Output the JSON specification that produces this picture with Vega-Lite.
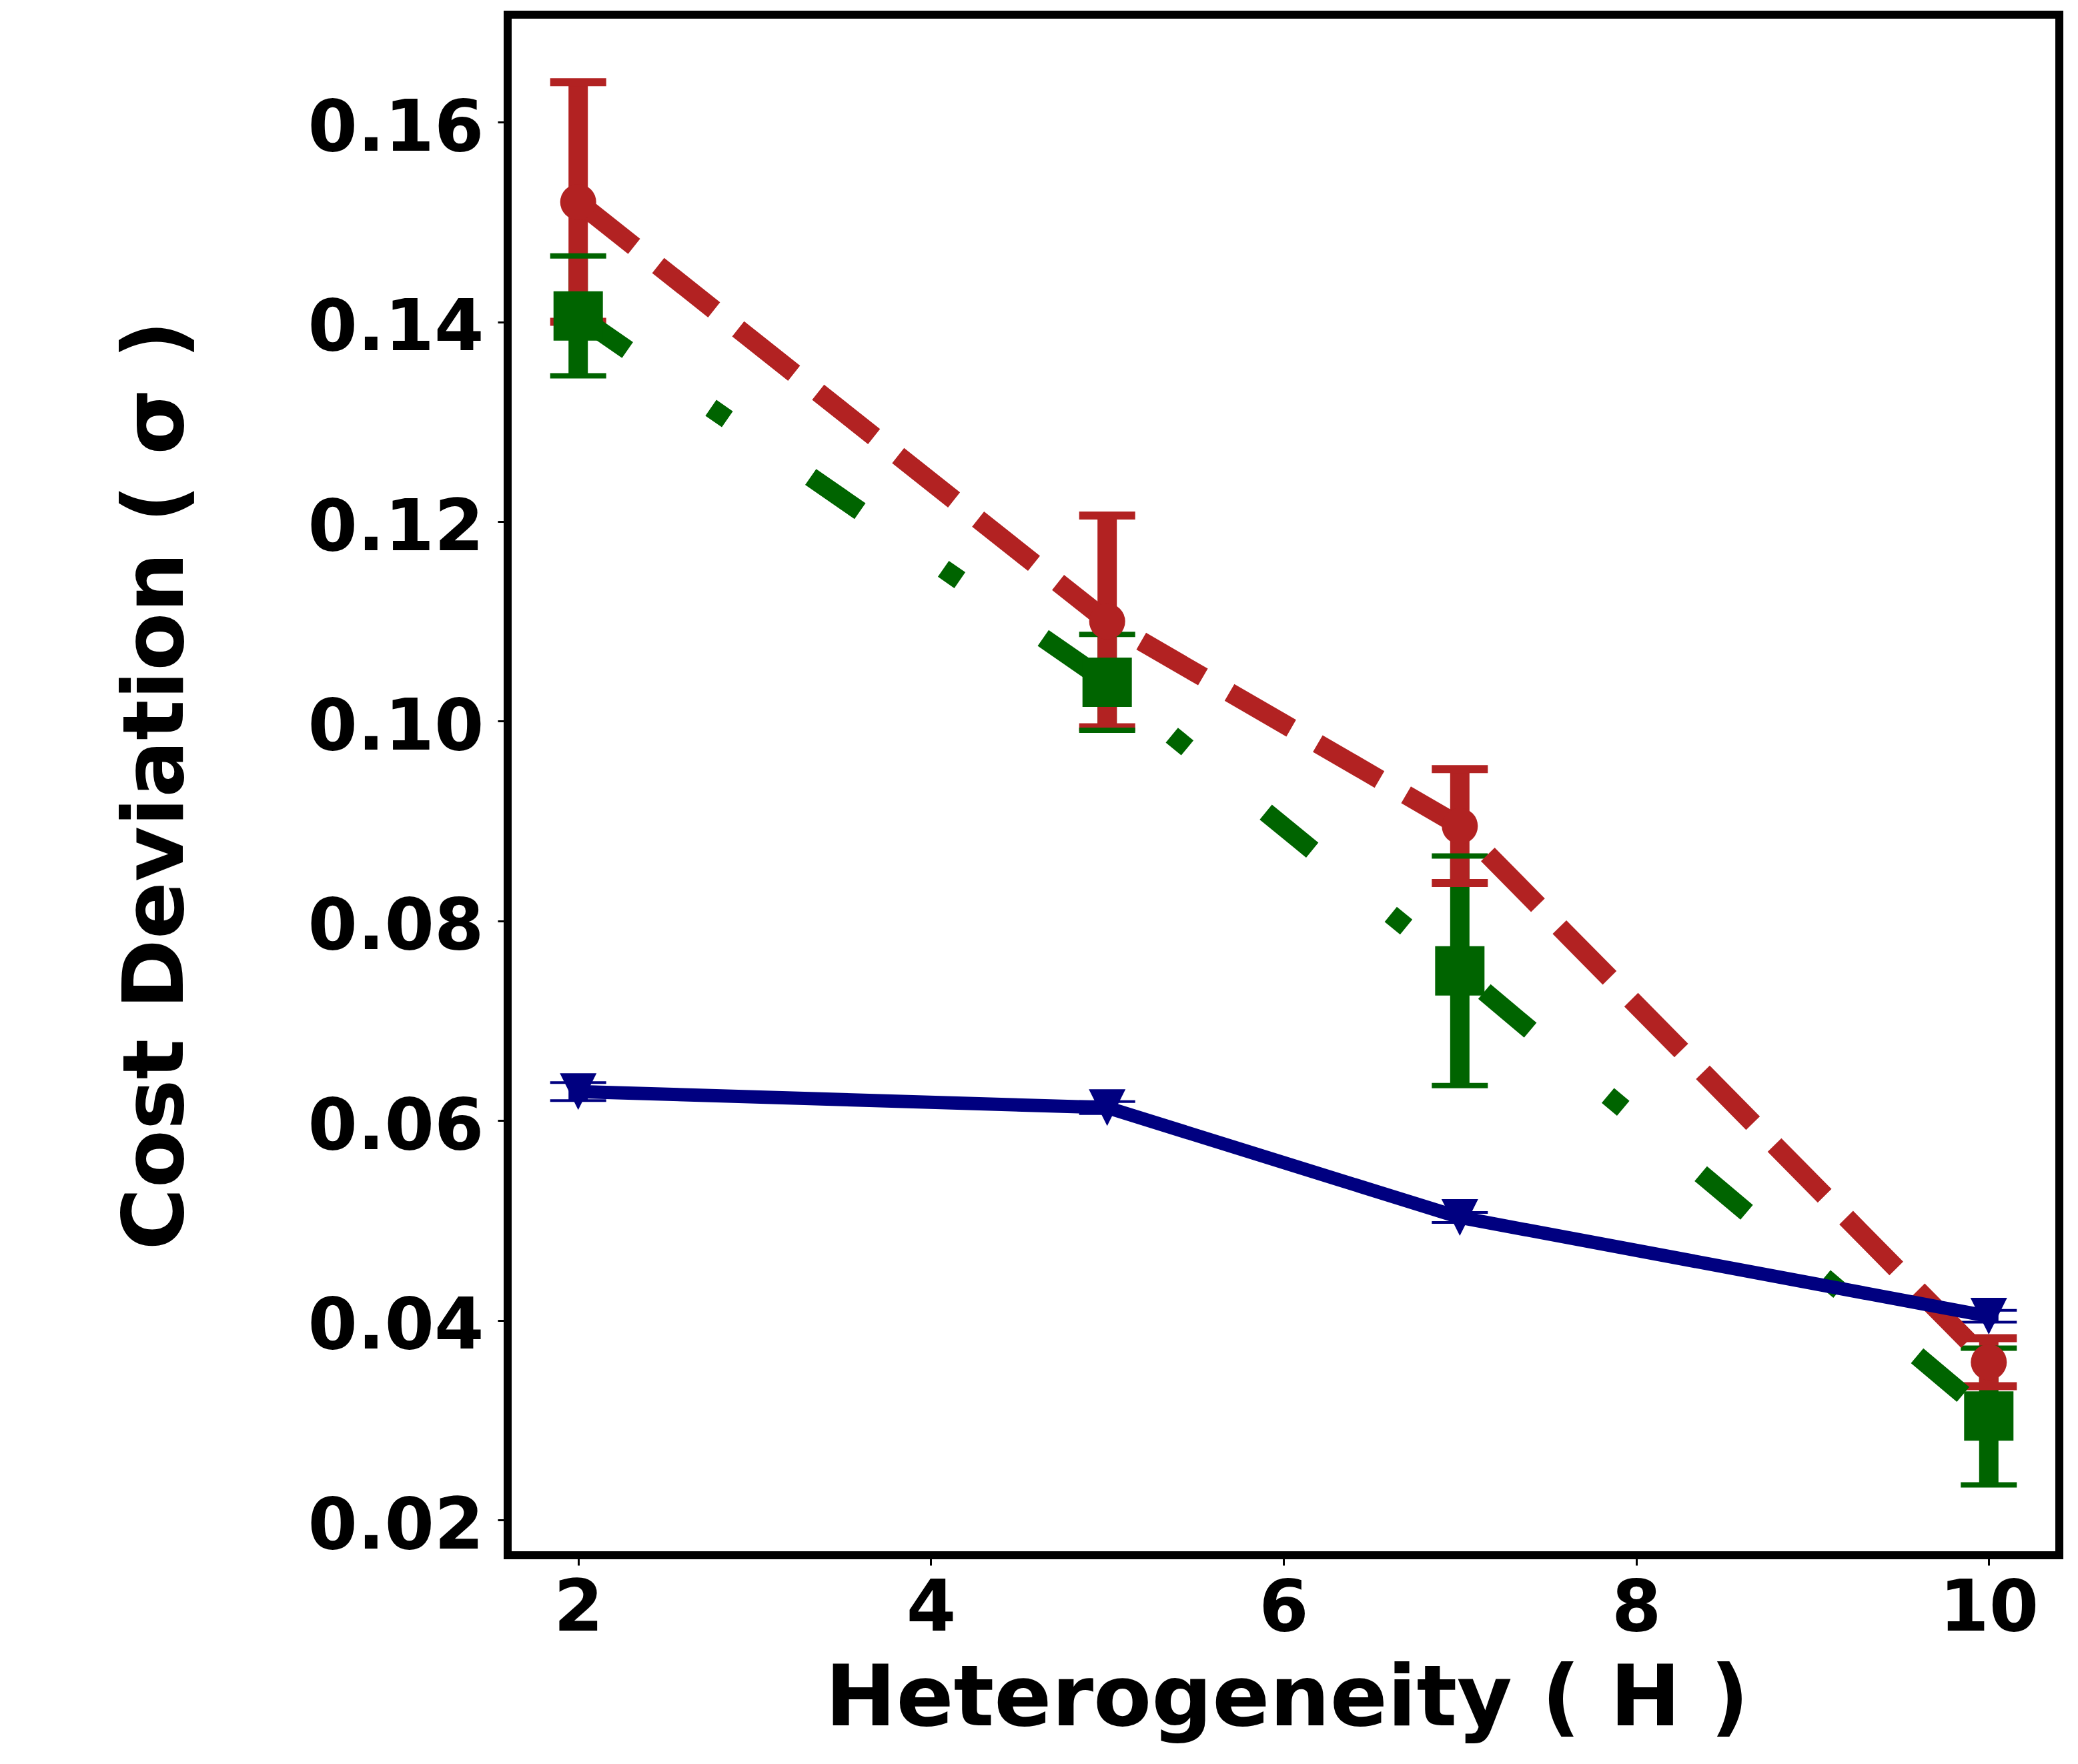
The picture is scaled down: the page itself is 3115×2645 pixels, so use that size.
{
  "$schema": "https://vega.github.io/schema/vega-lite/v6.json",
  "width": 2326,
  "height": 2310,
  "autosize": {"type": "none"},
  "padding": {"left": 761, "top": 22, "right": 28, "bottom": 313},
  "background": "white",
  "data": {
    "values": [
      {"series": "green", "H": 2, "sigma": 0.1406, "lo": 0.1346, "hi": 0.1466},
      {"series": "green", "H": 5, "sigma": 0.1039, "lo": 0.0991, "hi": 0.1087},
      {"series": "green", "H": 7, "sigma": 0.0750, "lo": 0.0635, "hi": 0.0865},
      {"series": "green", "H": 10, "sigma": 0.0304, "lo": 0.0235, "hi": 0.0372},
      {"series": "red", "H": 2, "sigma": 0.152, "lo": 0.140, "hi": 0.164},
      {"series": "red", "H": 5, "sigma": 0.110, "lo": 0.0994, "hi": 0.1206},
      {"series": "red", "H": 7, "sigma": 0.0895, "lo": 0.0838, "hi": 0.0952},
      {"series": "red", "H": 10, "sigma": 0.0358, "lo": 0.0334, "hi": 0.0382},
      {"series": "blue", "H": 2, "sigma": 0.0629, "lo": 0.0620, "hi": 0.0638},
      {"series": "blue", "H": 5, "sigma": 0.0613, "lo": 0.0607, "hi": 0.0619},
      {"series": "blue", "H": 7, "sigma": 0.0503, "lo": 0.0498, "hi": 0.0508},
      {"series": "blue", "H": 10, "sigma": 0.0404, "lo": 0.0398, "hi": 0.0410}
    ]
  },
  "encoding": {
    "x": {
      "field": "H",
      "type": "quantitative",
      "scale": {"domain": [1.6, 10.4], "nice": false, "zero": false},
      "axis": {
        "values": [2, 4, 6, 8, 10],
        "title": "Heterogeneity ( H )",
        "titleX": 1168,
        "titleY": 254,
        "titleAlign": "center",
        "titleBaseline": "alphabetic",
        "labelPadding": 12,
        "labelFlush": false
      }
    },
    "y": {
      "field": "sigma",
      "type": "quantitative",
      "scale": {"domain": [0.01646, 0.17077], "nice": false, "zero": false},
      "axis": {
        "values": [0.02, 0.04, 0.06, 0.08, 0.10, 0.12, 0.14, 0.16],
        "format": ".2f",
        "title": "Cost Deviation ( σ )",
        "titleX": -488,
        "titleY": 1155,
        "titleAngle": 270,
        "titleAlign": "center",
        "titleBaseline": "alphabetic",
        "labelPadding": 21,
        "labelOffset": 10,
        "labelFlush": false
      }
    }
  },
  "layer": [
    {
      "mark": {"type": "rule", "strokeWidth": 29, "strokeCap": "butt"},
      "encoding": {
        "y": {
          "field": "lo",
          "type": "quantitative",
          "scale": {"domain": [0.01646, 0.17077], "nice": false, "zero": false},
          "axis": {
            "values": [0.02, 0.04, 0.06, 0.08, 0.10, 0.12, 0.14, 0.16],
            "format": ".2f",
            "title": "Cost Deviation ( σ )",
            "titleX": -488,
            "titleY": 1155,
            "titleAngle": 270,
            "titleAlign": "center",
            "titleBaseline": "alphabetic",
            "labelPadding": 21,
            "labelOffset": 10,
            "labelFlush": false
          }
        },
        "y2": {"field": "hi"},
        "color": {
          "field": "series",
          "type": "nominal",
          "scale": {"domain": ["green", "red", "blue"], "range": ["#006400", "#b22222", "#000080"]},
          "legend": null
        }
      }
    },
    {
      "transform": [{"filter": "datum.series === 'red'"}, {"fold": ["lo", "hi"], "as": ["end", "sigma"]}],
      "mark": {"type": "tick", "orient": "horizontal", "size": 84, "thickness": 12, "color": "#b22222", "opacity": 1}
    },
    {
      "transform": [{"filter": "datum.series === 'green'"}, {"fold": ["lo", "hi"], "as": ["end", "sigma"]}],
      "mark": {"type": "tick", "orient": "horizontal", "size": 84, "thickness": 8, "color": "#006400", "opacity": 1}
    },
    {
      "transform": [{"filter": "datum.series === 'blue'"}, {"fold": ["lo", "hi"], "as": ["end", "sigma"]}],
      "mark": {"type": "tick", "orient": "horizontal", "size": 84, "thickness": 4, "color": "#000080", "opacity": 1}
    },
    {
      "transform": [{"filter": "datum.series === 'green'"}],
      "mark": {"type": "line", "color": "#006400", "strokeWidth": 29, "strokeDash": [90, 152, 30, 152], "strokeCap": "butt", "strokeJoin": "round"}
    },
    {
      "transform": [{"filter": "datum.series === 'green'"}],
      "mark": {"type": "point", "shape": "square", "size": 5476, "filled": true, "opacity": 1, "color": "#006400", "strokeWidth": 0}
    },
    {
      "transform": [{"filter": "datum.series === 'red'"}],
      "mark": {"type": "line", "color": "#b22222", "strokeWidth": 29, "strokeDash": [107, 46], "strokeCap": "butt", "strokeJoin": "round"}
    },
    {
      "transform": [{"filter": "datum.series === 'red'"}],
      "mark": {"type": "point", "shape": "circle", "size": 2916, "filled": true, "opacity": 1, "color": "#b22222", "strokeWidth": 0}
    },
    {
      "transform": [{"filter": "datum.series === 'blue'"}],
      "mark": {"type": "line", "color": "#000080", "strokeWidth": 20, "strokeCap": "square", "strokeJoin": "round"}
    },
    {
      "transform": [{"filter": "datum.series === 'blue'"}],
      "mark": {"type": "point", "shape": "M-1,-1L1,-1L0,1Z", "size": 3025, "filled": true, "opacity": 1, "color": "#000080", "strokeWidth": 0}
    }
  ],
  "config": {
    "view": {"stroke": "black", "strokeWidth": 12},
    "axis": {
      "labelFont": "DejaVu Sans",
      "labelFontWeight": "bold",
      "labelFontSize": 107,
      "labelColor": "black",
      "labelLimit": 1000,
      "titleFont": "DejaVu Sans",
      "titleFontWeight": "bold",
      "titleFontSize": 127,
      "titleColor": "black",
      "titleLimit": 3000,
      "tickColor": "black",
      "tickWidth": 3,
      "tickSize": 15,
      "grid": false,
      "domain": false,
      "labelOverlap": false,
      "labelBound": false
    }
  }
}
